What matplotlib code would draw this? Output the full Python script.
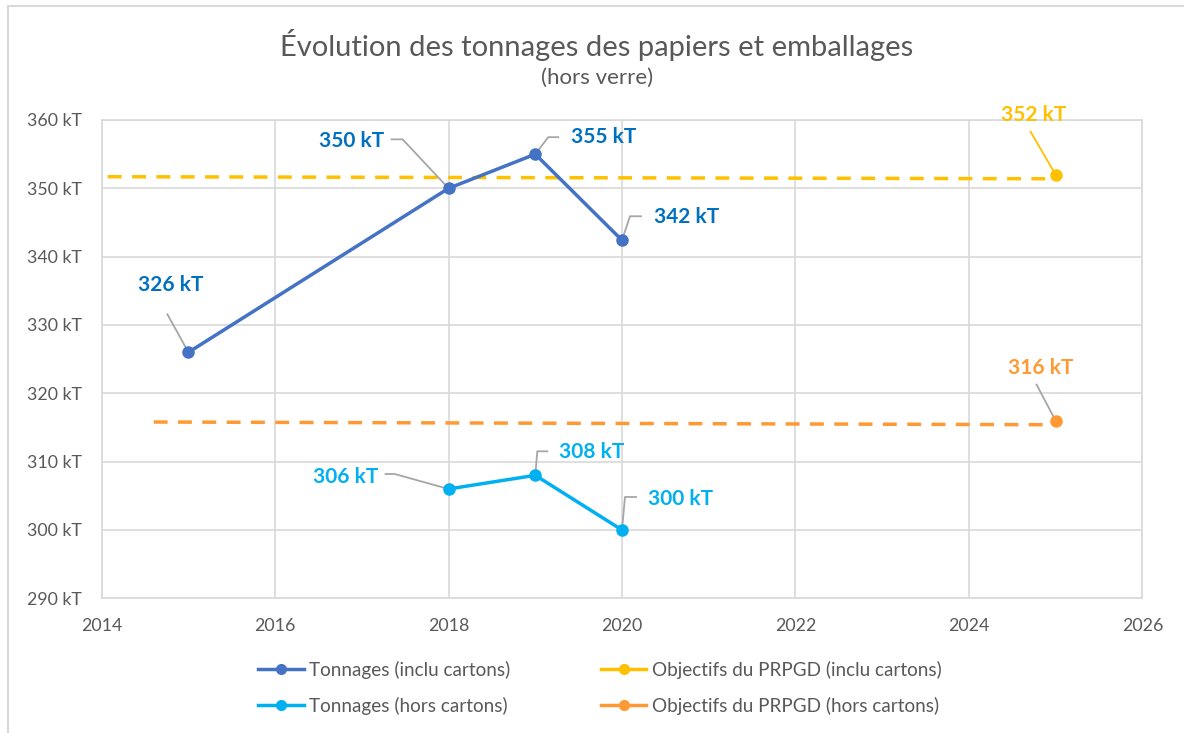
import matplotlib
matplotlib.use("Agg")
import matplotlib.pyplot as plt
from matplotlib.lines import Line2D
from matplotlib.patches import Rectangle
from matplotlib.transforms import Affine2D, ScaledTranslation

plt.rcParams['font.family'] = ['Lato', 'DejaVu Sans']

# ---- data ----
years_tot = [2015, 2018, 2019, 2020]
tonnage_inclu = [326, 350, 355, 342.4]
years_hors = [2018, 2019, 2020]
tonnage_hors = [306, 308, 300]
obj_line_x = [2014.07, 2025]
obj_inclu_line = [351.7, 351.4]
obj_hors_line_x = [2014.6, 2025]
obj_hors_line = [315.8, 315.4]
obj_year = [2025]
obj_inclu = [352]
obj_hors = [316]
labels_inclu = ["326 kT", "350 kT", "355 kT", "342 kT"]
labels_hors = ["306 kT", "308 kT", "300 kT"]
label_obj_inclu = "352 kT"
label_obj_hors = "316 kT"
yticks = [290, 300, 310, 320, 330, 340, 350, 360]
xticks = [2014, 2016, 2018, 2020, 2022, 2024, 2026]

BLUE = "#4472C4"
BLUE_TXT = "#0070C0"
LBLUE = "#00B0F0"
YEL = "#FFC000"
ORA = "#FF9933"
GREY = "#595959"
LEAD = "#A6A6A6"
GRID = "#D9D9D9"

fig = plt.figure(figsize=(11.84, 7.33), dpi=100)
fig.patches.append(Rectangle((8/1184, -0.1), 1.2, 1.1 - 6/733, transform=fig.transFigure,
                             fill=False, edgecolor=GRID, lw=1.5))
ax = fig.add_axes([101.7/1184, 1 - 598.3/733, (1142.3-101.7)/1184, (598.3-120)/733])

ax.set_xlim(2014, 2026)
ax.set_ylim(290, 360)
ax.set_xticks(xticks)
ax.set_yticks(yticks)
ax.set_yticklabels([f"{v} kT" for v in yticks])
ax.grid(True, color=GRID, lw=1.2)
ax.set_axisbelow(True)
for s in ax.spines.values():
    s.set_color(GRID)
    s.set_linewidth(1.2)
ax.tick_params(length=0, colors=GREY, labelsize=12.8)
ax.tick_params(axis='y', pad=14)
ax.tick_params(axis='x', pad=14)

ax.plot(obj_line_x, obj_inclu_line, color=YEL, lw=2.5, ls=(0, (4, 3)), zorder=2)
ax.plot(obj_hors_line_x, obj_hors_line, color=ORA, lw=2.5, ls=(0, (4, 3)), zorder=2)
ax.plot(years_tot, tonnage_inclu, color=BLUE, lw=2.5, marker='o', ms=8, zorder=3)
ax.plot(years_hors, tonnage_hors, color=LBLUE, lw=2.5, marker='o', ms=8, zorder=3)
ax.plot(obj_year, obj_inclu, color=YEL, marker='o', ms=8, ls='none', zorder=3)
ax.plot(obj_year, obj_hors, color=ORA, marker='o', ms=8, ls='none', zorder=3)

# label layout: (text offset px, leader polyline offsets px) in image orientation
lay_inclu = [
    ((-18, -67), [(-21, -38), (0, 0)]),
    ((-97, -47), [(-57, -49), (-46, -49), (0, 0)]),
    ((68, -17), [(0, 0), (13, -17), (23, -17)]),
    ((65, -23), [(0, 0), (8, -24), (19, -24)]),
]
lay_hors = [
    ((-103, -12), [(-63, -15), (-54, -15), (0, 0)]),
    ((56, -23), [(0, 0), (2, -24), (12, -24)]),
    ((59, -31), [(0, 0), (3, -33), (14, -33)]),
]
lay_obj_inclu = ((-22, -60), [(-25, -43), (0, 0)])
lay_obj_hors = ((-15, -53), [(-19, -36), (0, 0)])


def label(x, y, txt, lay, tcolor, lcolor):
    (tx, ty), poly = lay
    ax.annotate(txt, xy=(x, y), xytext=(tx * 0.72, -ty * 0.72), textcoords='offset points',
                ha='center', va='center', fontsize=15, fontweight='bold', color=tcolor,
                annotation_clip=False, zorder=5)
    tr = Affine2D().scale(1, -1) + ScaledTranslation(x, y, ax.transData)
    xs = [p[0] for p in poly]
    ys = [p[1] for p in poly]
    ax.add_line(Line2D(xs, ys, transform=tr, color=lcolor, lw=1.3, zorder=2.5, clip_on=False))


for x, y, t, l in zip(years_tot, tonnage_inclu, labels_inclu, lay_inclu):
    label(x, y, t, l, BLUE_TXT, LEAD)
for x, y, t, l in zip(years_hors, tonnage_hors, labels_hors, lay_hors):
    label(x, y, t, l, LBLUE, LEAD)
label(obj_year[0], obj_inclu[0], label_obj_inclu, lay_obj_inclu, YEL, YEL)
label(obj_year[0], obj_hors[0], label_obj_hors, lay_obj_hors, ORA, LEAD)

fig.text(597/1184, 1 - 45/733, "Évolution des tonnages des papiers et emballages",
         ha='center', va='center', fontsize=21, color=GREY)
fig.text(597/1184, 1 - 78/733, "(hors verre)", ha='center', va='center', fontsize=16, color=GREY)

handles = [
    Line2D([], [], color=BLUE, lw=2.5, marker='o', ms=7),
    Line2D([], [], color=LBLUE, lw=2.5, marker='o', ms=7),
    Line2D([], [], color=YEL, lw=2.5, marker='o', ms=7),
    Line2D([], [], color=ORA, lw=2.5, marker='o', ms=7),
]
names = ["Tonnages (inclu cartons)", "Tonnages (hors cartons)",
         "Objectifs du PRPGD (inclu cartons)", "Objectifs du PRPGD (hors cartons)"]
leg = fig.legend(handles, names, ncol=2, loc='center', bbox_to_anchor=(600/1184, 1 - 688/733),
                 frameon=False, fontsize=13.6, handlelength=2.4, handletextpad=0.3,
                 columnspacing=4.8, labelspacing=0.95)
for t in leg.get_texts():
    t.set_color(GREY)

fig.savefig("out.png", dpi=100)
